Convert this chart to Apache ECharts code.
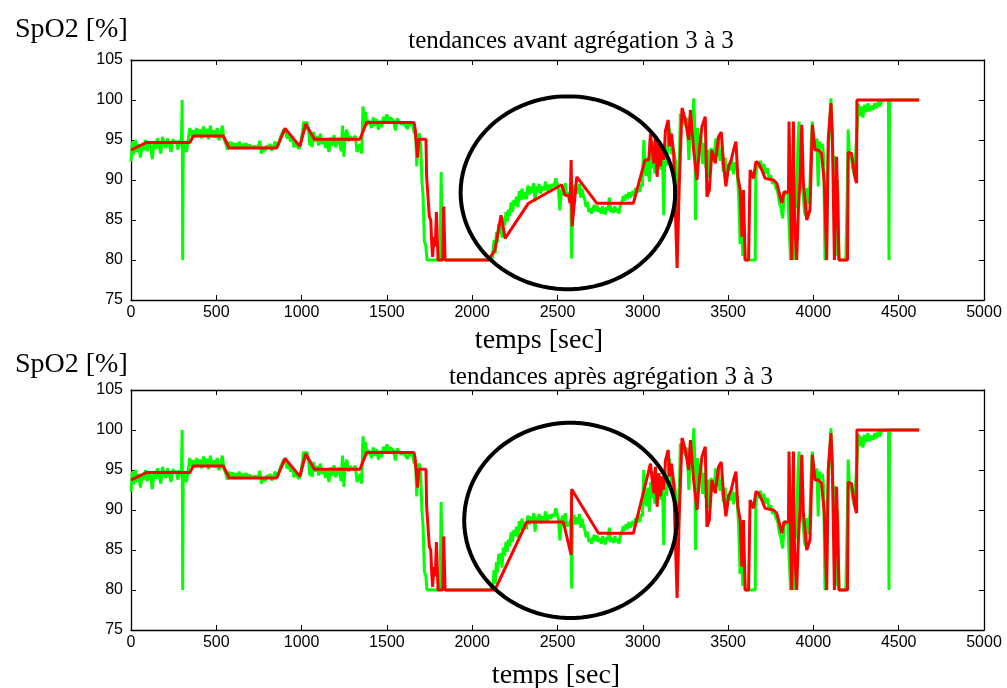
<!DOCTYPE html>
<html><head><meta charset="utf-8">
<script src="https://cdn.jsdelivr.net/npm/echarts@6/dist/echarts.min.js"></script>
<style>html,body{margin:0;padding:0;background:#fff}#c{width:1007px;height:688px}</style>
</head><body><div id="c"></div>
<script>
// ---- data ----
const xMin = 0, xMax = 5000, xStep = 500;
const yMin = 75, yMax = 105, yStep = 5;
const titleTop = 'tendances avant agrégation 3 à 3';
const titleBottom = 'tendances après agrégation 3 à 3';
const yLabel = 'SpO2 [%]';
const xLabel = 'temps [sec]';

// raw SpO2 signal (green), [seconds, %]
const rawSpO2 = [
[0,92.3],[8,94.8],[15,93.2],[25,95],[35,93.5],[45,94.5],[55,92.8],[65,94.2],[75,93.8],[85,95],[95,93.6],[105,94.8],[115,94.2],[125,92.6],[135,94.6],[145,93.9],[155,95.2],[165,94.3],[175,93.3],[185,95.4],[195,94.5],[205,94],[215,95.2],[225,94.4],[235,93.5],[245,95.1],[255,94.6],[265,94.9],[275,93.8],[285,95],[295,94.3],[300,100],[303,80],[306,94.8],[315,94],[325,93.5],[335,95],
[345,96.5],[355,95.5],[365,96.2],[375,95.3],[385,96.5],[395,95.6],[405,96.3],[415,95.2],[425,96.7],[435,95.4],[445,96.4],[455,95.1],[465,96.8],[475,95.5],[485,96.2],[495,95.3],[505,96.5],[515,95],[525,95.4],[535,96.8],[545,95.2],[555,94.6],[565,93.8],[575,94.8],
[585,94],[595,94.7],[605,93.9],[615,94.6],[625,94],[635,94.8],[645,93.9],[655,94.5],[665,94.1],[675,94.6],[685,94],[695,94.4],[705,94.1],[715,94],[725,94.2],[735,94],[745,94.1],[755,94.9],[765,93.3],[775,94.1],[785,93.6],[795,94.3],[805,94],[815,94.5],[825,93.7],[835,94.2],[845,94.8],[855,94],
[865,94.5],[875,95.3],[885,95.8],[895,96.3],[905,96],[915,95.2],[925,95.8],[935,94.8],[945,95.4],[955,94.1],[965,94.8],[975,94.2],[985,93.9],[995,94.6],
[1005,96],[1012,97.3],[1020,96.2],[1030,97.3],[1040,96.4],[1048,94.3],[1055,95.8],[1062,94.1],[1070,96],[1078,94.8],
[1090,95.5],[1100,94.3],[1110,95.8],[1120,94.5],[1130,95.2],[1140,94],[1150,95],[1160,93.5],[1170,95.3],[1180,94.3],[1190,95.6],[1200,94.1],[1210,94.8],[1220,95.3],[1232,93.6],[1240,96.8],[1248,92.9],[1255,95.5],[1265,96.3],[1275,94.8],[1285,95.5],[1295,95],[1305,95.2],[1315,95.5],[1325,93.5],[1335,94.2],
[1345,94.5],[1352,93.3],[1360,99.2],[1368,97],[1375,98.5],[1382,96.8],
[1390,97.5],[1400,97.2],[1410,96.5],[1420,97.8],[1430,96.8],[1440,97.6],[1450,96.3],[1460,97.4],[1470,96.6],[1480,97.9],[1490,97.4],[1500,98.2],[1510,97.3],[1520,97.8],[1530,98],[1540,97.4],[1550,96.2],[1560,97.7],[1570,97.3],[1580,97],[1590,96.8],[1600,97.1],[1610,97],[1620,96.4],[1630,97.2],[1640,96.8],[1650,97.1],
[1660,95.8],[1668,96.2],[1675,91.7],[1682,95.5],[1690,95.8],[1698,94.5],[1705,90],[1712,88],[1720,82.3],[1728,81.8],[1735,80],[1750,80],[1762,80],[1770,80.2],[1780,80],[1795,80],[1805,80],[1812,80],[1818,91],[1824,80],[1830,80.5],[1840,80],
[1900,80],[2000,80],[2100,80],[2110,80],
[2120,80.3],[2128,82.5],[2135,80.8],[2142,83.5],[2148,82.2],[2155,84.5],[2162,83.3],[2168,84.6],[2175,82.8],[2182,85.3],[2190,84.3],[2198,86],[2205,84.8],[2212,86.3],[2220,85.5],[2228,87.2],[2236,86],[2244,87.5],[2252,86.8],[2260,87.9],[2268,86.6],[2276,88.6],[2284,87.5],[2292,88.9],[2300,87.6],[2310,88.5],[2318,87.6],[2326,89.3],
[2336,88.2],[2344,89.2],[2352,88.4],[2360,89.6],[2368,87.3],[2376,89.2],[2384,88.5],[2392,89.5],[2400,88.3],[2410,89.2],[2420,88.7],[2430,89.8],[2440,88.6],[2450,89.4],[2460,88.9],[2470,89.5],[2480,89.2],[2490,90.2],[2498,89.5],[2506,88.7],[2514,86.2],[2522,88.5],[2530,89.3],[2538,88.1],[2546,89.6],[2554,87.9],[2562,88.4],[2570,88],[2578,88.9],[2583,80.2],[2588,88.8],
[2596,89.4],[2604,88.2],[2612,89.1],[2620,88.3],[2628,89.5],[2636,87.8],[2644,88.9],[2652,88],[2660,87.5],[2668,86.6],[2676,87.3],[2684,86],[2692,86.5],[2700,85.8],[2708,86.4],[2716,86.9],
[2724,86.1],[2732,86.8],[2740,86],[2748,86.5],[2756,85.8],[2764,86.7],[2772,86.1],[2780,85.7],[2788,86.6],[2796,86.2],[2804,87.8],[2812,86],[2820,86.5],[2828,85.9],[2836,86.7],[2844,86],[2852,86.4],[2860,85.8],[2868,86.8],
[2878,87.3],[2886,88],[2894,87.4],[2902,88.2],[2910,87.6],[2918,88.5],[2926,87.8],[2934,88.3],[2942,88.6],[2950,88],[2958,89],[2966,88.4],[2974,89.2],[2982,88.5],[2990,89.5],[2998,89.2],
[3006,95],[3014,91],[3022,90.5],[3030,92.8],[3038,89.8],[3046,93.5],[3054,91.5],[3062,94.8],[3070,90.8],[3078,93.2],[3086,92],[3094,94.5],[3102,91.3],[3110,93.6],[3118,90.6],[3123,85.6],[3128,92.4],[3138,91.8],[3146,94],[3154,96.5],[3162,95.6],[3170,93.2],[3178,94],[3186,93.8],[3194,92],
[3202,80.5],[3210,88],[3220,98.3],[3230,97],[3240,98.2],[3250,96.7],[3260,97.8],[3270,92.5],[3280,97.5],[3290,96.5],[3299,100.2],[3305,96],[3309,85],[3314,94],[3322,96.5],[3330,93.3],[3340,95.5],[3350,92],[3360,94.6],[3370,91.5],[3380,93.8],[3390,90.3],[3400,94],[3410,92.3],[3420,93.4],[3428,95.2],[3436,93],[3444,95.2],[3452,92.4],[3462,93.8],[3472,91],[3482,92.8],[3492,90.2],[3502,92],[3512,91.2],[3522,92.5],[3532,90.7],[3542,92.2],[3552,91.5],
[3562,88],[3570,82],[3578,85],[3586,80.5],[3594,84],[3600,80],[3620,80],[3640,80],[3659,80],[3662,90.4],[3670,92.3],[3680,91.5],[3690,92.4],[3700,91.2],[3710,92],[3720,90.8],[3730,91.5],[3740,90.2],[3750,90.6],[3760,89.5],[3770,90],[3780,89],[3790,88.6],[3800,87.2],[3810,86.5],[3820,85.2],[3830,88.6],[3840,88.2],[3850,88.5],
[3858,84],[3866,80],[3872,86],[3880,80.5],[3886,80],[3893,88],[3900,86.5],[3910,95],[3916,97.3],[3922,92],[3930,90],[3940,88],[3948,86],[3955,85.5],[3962,89],[3970,87],[3980,89.5],[3988,95],[3994,97.3],[4002,94.5],[4010,93.8],[4020,95.2],[4028,89.2],[4036,94.8],[4044,94],[4052,94.5],[4060,93],[4068,80],[4076,80.5],[4084,92],[4092,96],[4103,100.2],[4110,95],[4118,91.5],[4126,93],[4134,80.5],[4142,90],[4150,80],[4170,80],[4190,80],[4198,88],[4204,96.3],[4212,92.5],[4220,93.2],[4230,91.5],[4240,90.6],
[4265,99.5],[4272,98],[4280,99.2],[4290,97.8],[4300,99.4],[4310,98.5],[4320,99.6],[4330,98.6],[4340,99.3],[4350,98.8],[4360,99.6],[4370,99],[4380,99.8],[4390,99.2],[4400,99.9],[4410,100],[4440,100],[4443,80],[4446,100],[4500,100],[4560,100],[4620,100]
];

// trend before 3-by-3 aggregation (red, top panel)
const trendBefore = [
[0,93.75],[92,94.7],[346,94.7],[365,95.5],[541,95.5],[576,94],[854,94],[903,96.45],[990,94.2],[1024,97],[1075,95.1],[1342,95.1],[1381,97.2],[1659,97.2],[1665,96.5],[1671,95],[1680,92.8],[1688,95.1],[1729,95.1],[1733,90.4],[1749,85.4],[1757,85],[1763,82],[1768,80.4],[1776,82.9],[1784,81.7],[1790,86],[1795,86.2],[1800,80],[1828,80],[1833,86.7],[1838,86.7],[1841,80],
[2095,80],[2133,81.25],[2169,85.6],[2193,82.7],[2330,87.1],[2525,89.4],[2544,88.1],[2564,88.1],[2574,87.1],[2580,92.5],[2586,84.2],[2613,90.4],[2730,87.1],[2945,87.1],[3013,92.5],[3035,92.5],
[3045,95.8],[3055,93.75],[3065,92.1],[3074,95.4],[3084,90.4],[3094,94.6],[3104,91.7],[3113,94.2],[3123,92.5],[3133,96.2],[3149,97.5],[3156,94.2],[3168,95.8],[3181,93.3],[3191,93.1],[3201,79],[3214,89.6],
[3230,99],[3249,97.5],[3269,95],[3279,98.75],[3298,93.75],[3318,90],[3331,93.75],[3347,96.7],[3366,97.9],[3376,87.9],[3390,88.75],[3405,93.75],[3425,92.1],[3444,95.4],[3460,96],[3474,91.7],[3487,89.2],[3503,91.7],[3518,92.5],[3532,93.75],[3546,94.8],[3557,90.4],[3571,88.75],[3581,82.9],[3590,88.75],[3600,80],[3620,80],[3629,91.25],[3649,90.2],[3663,92.3],[3678,92.1],[3698,91.25],[3717,90.2],[3766,90],[3785,89.6],[3815,87.1],[3828,88.5],[3854,88.5],[3857,97.3],[3873,80],[3883,97.3],[3889,85.4],[3902,80],[3912,86.25],[3922,90.4],[3932,96.9],[3941,89.6],[3951,87.5],[3961,85],[3980,86.25],[3994,96.9],[4010,93.75],[4029,93.75],[4048,93.3],[4064,89.6],[4078,80],[4087,95],[4103,99.6],[4111,95.8],[4123,80],[4136,92.9],[4150,80],[4200,80],[4204,93.5],[4224,93.3],[4243,90.4],[4253,89.6],[4255,100],[4620,100]
];

// trend after 3-by-3 aggregation (red, bottom panel)
const trendAfter = [
[0,93.75],[92,94.7],[346,94.7],[365,95.5],[541,95.5],[576,94],[854,94],[903,96.45],[990,94.2],[1024,97],[1075,95.1],[1342,95.1],[1381,97.2],[1659,97.2],[1665,96.5],[1671,95],[1680,92.8],[1688,95.1],[1729,95.1],[1733,90.4],[1749,85.4],[1757,85],[1763,82],[1768,80.4],[1776,82.9],[1784,81.7],[1790,86],[1795,86.2],[1800,80],[1828,80],[1833,86.7],[1838,86.7],[1841,80],
[2133,80],[2320,88.5],[2534,88.5],[2580,84.4],[2583,92.6],[2740,87.1],[2945,87.1],[3045,95.8],
[3055,93.75],[3065,92.1],[3074,95.4],[3084,90.4],[3094,94.6],[3104,91.7],[3113,94.2],[3123,92.5],[3133,96.2],[3149,97.5],[3156,94.2],[3168,95.8],[3181,93.3],[3191,93.1],[3201,79],[3214,89.6],
[3230,99],[3249,97.5],[3269,95],[3279,98.75],[3298,93.75],[3318,90],[3331,93.75],[3347,96.7],[3366,97.9],[3376,87.9],[3390,88.75],[3405,93.75],[3425,92.1],[3444,95.4],[3460,96],[3474,91.7],[3487,89.2],[3503,91.7],[3518,92.5],[3532,93.75],[3546,94.8],[3557,90.4],[3571,88.75],[3581,82.9],[3590,88.75],[3600,80],[3620,80],[3629,91.25],[3649,90.2],[3663,92.3],[3678,92.1],[3698,91.25],[3717,90.2],[3766,90],[3785,89.6],[3815,87.1],[3828,88.5],[3854,88.5],[3857,97.3],[3873,80],[3883,97.3],[3889,85.4],[3902,80],[3912,86.25],[3922,90.4],[3932,96.9],[3941,89.6],[3951,87.5],[3961,85],[3980,86.25],[3994,96.9],[4010,93.75],[4029,93.75],[4048,93.3],[4064,89.6],[4078,80],[4087,95],[4103,99.6],[4111,95.8],[4123,80],[4136,92.9],[4150,80],[4200,80],[4204,93.5],[4224,93.3],[4243,90.4],[4253,89.6],[4255,100],[4620,100]
];

// highlight ellipse [centre x, centre y, radius x, radius y] in data units
const ellipseTop = [2561, 88.4, 629, 12.06];
const ellipseBottom = [2576, 88.7, 623, 12.2];

// ---- chart ----
const serif = 'Liberation Serif';
const sans = 'Liberation Sans';
const GRID_L = 131, GRID_W = 853, GRID_H = 240;
const grids = [{left: GRID_L, top: 60, width: GRID_W, height: GRID_H},
               {left: GRID_L, top: 390, width: GRID_W, height: GRID_H}];
const plain = v => String(v);

function xAx(gi, pos, labels) {
  return {type: 'value', gridIndex: gi, position: pos, min: xMin, max: xMax, interval: xStep,
    axisLine: {show: true, onZero: false, lineStyle: {color: '#000', width: 1.3}},
    axisTick: {show: true, inside: true, length: 5, lineStyle: {color: '#000', width: 1}},
    axisLabel: {show: labels, color: '#000', fontFamily: sans, fontSize: 16, margin: 5, formatter: plain, showMinLabel: true, showMaxLabel: true},
    splitLine: {show: false}};
}
function yAx(gi, pos, labels) {
  return {type: 'value', gridIndex: gi, position: pos, min: yMin, max: yMax, interval: yStep,
    axisLine: {show: true, onZero: false, lineStyle: {color: '#000', width: 1.3}},
    axisTick: {show: true, inside: true, length: 5, lineStyle: {color: '#000', width: 1}},
    axisLabel: {show: labels, color: '#000', fontFamily: sans, fontSize: 16, margin: 8, formatter: plain, showMinLabel: true, showMaxLabel: true},
    splitLine: {show: false}};
}

function ellipseRender(params, api) {
  const c = api.coord([api.value(0), api.value(1)]);
  const s = api.size([api.value(2), api.value(3)]);
  const pts = [];
  for (let i = 0; i <= 90; i++) {
    const a = i / 90 * 2 * Math.PI;
    pts.push([c[0] + s[0] * Math.cos(a), c[1] + s[1] * Math.sin(a)]);
  }
  return {type: 'polyline', shape: {points: pts}, style: {stroke: '#000', lineWidth: 4, fill: null}};
}

function lineSeries(data, color, gi, z) {
  return {type: 'line', data: data, xAxisIndex: gi * 2, yAxisIndex: gi * 2, showSymbol: false, symbol: 'none',
    lineStyle: {color: color, width: 3}, z: z, animation: false, clip: true};
}

const chart = echarts.init(document.getElementById('c'), null, {renderer: 'canvas'});
chart.setOption({
  backgroundColor: '#fff',
  animation: false,
  grid: grids,
  title: [
    {text: titleTop, left: 566, top: 24, textAlign: 'center', textStyle: {fontFamily: serif, fontSize: 25, fontWeight: 'normal', color: '#000'}},
    {text: titleBottom, left: 606, top: 360, textAlign: 'center', textStyle: {fontFamily: serif, fontSize: 25, fontWeight: 'normal', color: '#000'}},
    {text: yLabel, left: 10, top: 11, textStyle: {fontFamily: serif, fontSize: 28, fontWeight: 'normal', color: '#000'}},
    {text: yLabel, left: 10, top: 346, textStyle: {fontFamily: serif, fontSize: 28, fontWeight: 'normal', color: '#000'}},
    {text: xLabel, left: 534, top: 322, textAlign: 'center', textStyle: {fontFamily: serif, fontSize: 28, fontWeight: 'normal', color: '#000'}},
    {text: xLabel, left: 551, top: 657, textAlign: 'center', textStyle: {fontFamily: serif, fontSize: 28, fontWeight: 'normal', color: '#000'}}
  ],
  xAxis: [xAx(0, 'bottom', true), xAx(0, 'top', false), xAx(1, 'bottom', true), xAx(1, 'top', false)],
  yAxis: [yAx(0, 'left', true), yAx(0, 'right', false), yAx(1, 'left', true), yAx(1, 'right', false)],
  series: [
    lineSeries(rawSpO2, '#00ff00', 0, 2),
    lineSeries(trendBefore, '#ff0000', 0, 3),
    lineSeries(rawSpO2, '#00ff00', 1, 2),
    lineSeries(trendAfter, '#ff0000', 1, 3),
    {type: 'custom', xAxisIndex: 0, yAxisIndex: 0, data: [ellipseTop], renderItem: ellipseRender, z: 4, clip: false, silent: true},
    {type: 'custom', xAxisIndex: 2, yAxisIndex: 2, data: [ellipseBottom], renderItem: ellipseRender, z: 4, clip: false, silent: true}
  ]
});
</script></body></html>
